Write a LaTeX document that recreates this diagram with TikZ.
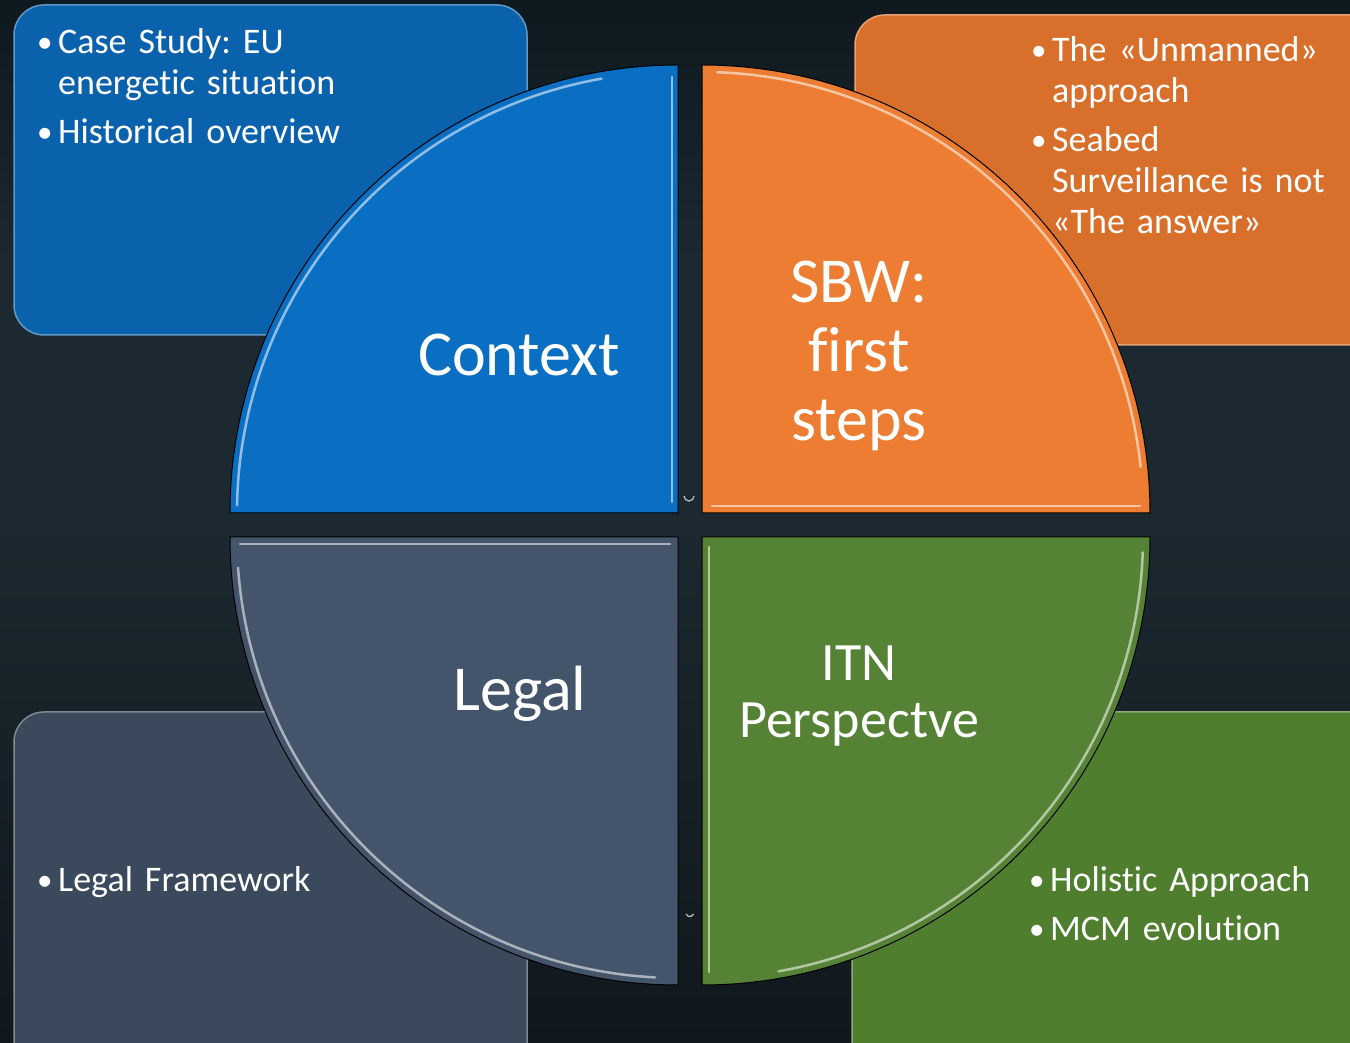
\documentclass[tikz,border=0pt]{standalone}
\usepackage{fontspec}
\setmainfont{Carlito}[Ligatures=NoCommon]
\usetikzlibrary{positioning}
\definecolor{seatop}{HTML}{0E191F}
\definecolor{seamid}{HTML}{1C2930}
\definecolor{seabot}{HTML}{0F181D}
\definecolor{ctxbox}{HTML}{0A62AC}
\definecolor{ctxfill}{HTML}{0A6FC3}
\definecolor{sbwbox}{HTML}{D8702C}
\definecolor{sbwfill}{HTML}{EC7D32}
\definecolor{legbox}{HTML}{3A495C}
\definecolor{legfill}{HTML}{44546A}
\definecolor{itnbox}{HTML}{4F7E2F}
\definecolor{itnfill}{HTML}{568235}
\tikzset{
  quarter/.style={fill=#1, draw=black, line width=1pt},
  gloss/.style={draw=#1!45!white, line width=2.5pt, line cap=round},
  infobox/.style={fill=#1, draw=#1!65!white, line width=1.5pt, rounded corners=30pt},
  bigtext/.style={text=white, font=\fontsize{64}{69}\selectfont, align=center, inner sep=0pt},
  bullettext/.style={text=white, font=\fontsize{36}{41}\selectfont\frenchspacing, anchor=base west,
    inner sep=0pt, text width=#1, align=left},
}
\newcommand{\bitem}[1]{\setlength{\parskip}{8pt}\hangindent=21pt\hangafter=1\makebox[21pt][l]{\raisebox{1.5pt}{\fontsize{31}{31}\selectfont\textbullet}}#1\par}
\begin{document}
\begin{tikzpicture}[x=1pt,y=1pt]
\useasboundingbox (0,0) rectangle (1350,1042);
\clip (0,0) rectangle (1350,1042);
% sea
\shade[top color=seatop, bottom color=seamid, middle color=seamid] (0,521) rectangle (1350,1042);
\shade[top color=seamid, bottom color=seabot] (0,0) rectangle (1350,521);
% corner boxes
\draw[infobox=ctxbox] (14,707) rectangle (527,1037);
\draw[infobox=sbwbox] (855,697) rectangle (1380,1027);
\draw[infobox=legbox] (14,-40) rectangle (527,330);
\draw[infobox=itnbox] (852,-40) rectangle (1380,330);
% quarters
\draw[quarter=ctxfill] (678,529) -- (230,529) arc[start angle=180, end angle=90, radius=448pt] -- cycle;
\draw[quarter=sbwfill] (702,529) -- (1150,529) arc[start angle=0, end angle=90, radius=448pt] -- cycle;
\draw[quarter=legfill] (678,505) -- (230,505) arc[start angle=180, end angle=270, radius=448pt] -- cycle;
\draw[quarter=itnfill] (702,505) -- (1150,505) arc[start angle=0, end angle=-90, radius=448pt] -- cycle;
% gloss
\draw[gloss=ctxfill] (678,529) ++(179:441) arc[start angle=179, end angle=100, radius=441pt];
\draw[gloss=ctxfill] (672,540) -- (672,965);
\draw[gloss=sbwfill] (702,529) ++(6:441) arc[start angle=6, end angle=88, radius=441pt];
\draw[gloss=sbwfill] (712,536) -- (1140,536);
\draw[gloss=legfill] (678,505) ++(184:441) arc[start angle=184, end angle=267, radius=441pt];
\draw[gloss=legfill] (240,498) -- (670,498);
\draw[gloss=itnfill] (702,505) ++(-2:441) arc[start angle=-2, end angle=-80, radius=441pt];
\draw[gloss=itnfill] (709,495) -- (709,70);
\draw[white!75!black, line width=1.2pt] (684,546) arc[start angle=180, end angle=360, radius=5pt];
\draw[white!75!black, line width=1.2pt] (686,128) arc[start angle=200, end angle=340, radius=4pt];
% labels
\node[bigtext] (context) at (519,687) {Context};
\node[bigtext] (sbw) at (859,686) {SBW:\\first\\steps};
\node[bigtext] (legal) at (520,348) {Legal};
\node[bigtext, font=\fontsize{54}{57}\selectfont] (itn) at (859,346) {ITN\\Perspectve};
% bullets
\node[bullettext=470pt] (ctxlist) at (37,988) {\bitem{Case Study: EU\newline energetic situation}\bitem{Historical overview}};
\node[bullettext=320pt] (sbwlist) at (1031,980) {\bitem{The «Unmanned»\newline approach}\bitem{Seabed\newline Surveillance is not\newline «The answer»}};
\node[bullettext=470pt] (leglist) at (37,150) {\bitem{Legal Framework}};
\node[bullettext=320pt] (itnlist) at (1029,150) {\bitem{Holistic Approach}\bitem{MCM evolution}};
\end{tikzpicture}
\end{document}
